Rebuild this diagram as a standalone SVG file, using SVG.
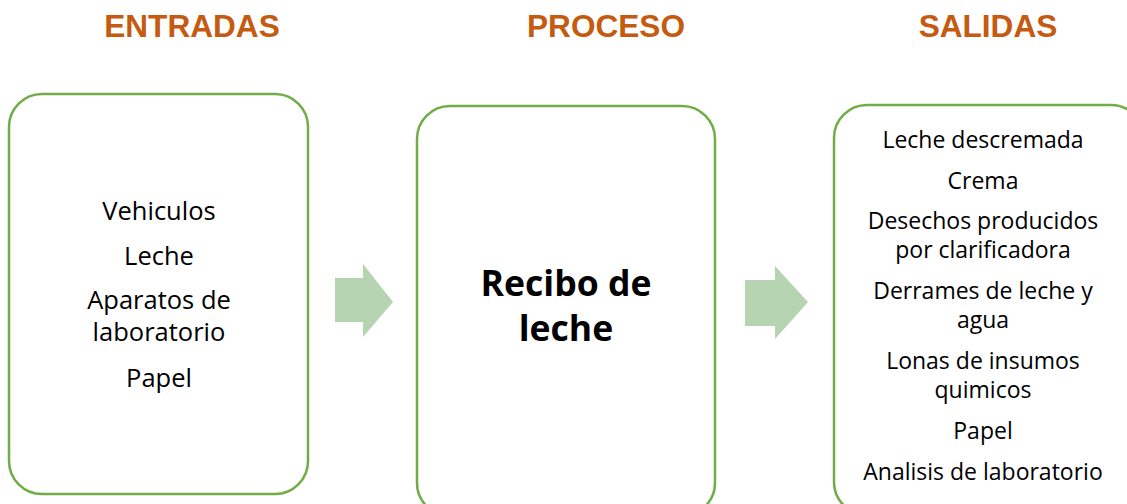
<svg xmlns="http://www.w3.org/2000/svg" width="1127" height="504" viewBox="0 0 1127 504">
<style>
.h{font-family:"Liberation Sans",Arial,sans-serif;font-weight:bold;font-size:31.6px;fill:#C55A11;text-anchor:middle}
.box{fill:#fff;stroke:#70AD47;stroke-width:2.5}
.t{font-family:"Open Sans","Noto Sans",sans-serif;font-size:23px;fill:#000;text-anchor:middle}
.tl{font-family:"Open Sans","Noto Sans",sans-serif;font-size:25.5px;fill:#000;text-anchor:middle}
.b{font-family:"Open Sans","Noto Sans",sans-serif;font-size:35.6px;font-weight:bold;fill:#000;text-anchor:middle}
.arr{fill:#B6D4B1}
</style>
<rect width="1127" height="504" fill="#fff"/>
<text class="h" x="192" y="37">ENTRADAS</text>
<text class="h" x="606" y="37">PROCESO</text>
<text class="h" x="988" y="37">SALIDAS</text>
<g id="entradas">
<rect class="box" x="9" y="94" width="299" height="400" rx="33"/>
<text class="tl" x="159" y="220">Vehiculos</text>
<text class="tl" x="159" y="265">Leche</text>
<text class="tl" x="159" y="309">Aparatos de</text>
<text class="tl" x="159" y="341">laboratorio</text>
<text class="tl" x="159" y="387">Papel</text>
</g>
<g id="proceso">
<rect class="box" x="417" y="106" width="298" height="410" rx="33"/>
<text class="b" x="566" y="296">Recibo de</text>
<text class="b" x="566" y="341">leche</text>
</g>
<g id="salidas">
<rect class="box" x="834" y="105" width="310" height="410" rx="33"/>
<text class="t" x="983" y="148">Leche descremada</text>
<text class="t" x="983" y="189">Crema</text>
<text class="t" x="983" y="229">Desechos producidos</text>
<text class="t" x="983" y="258">por clarificadora</text>
<text class="t" x="983" y="299">Derrames de leche y</text>
<text class="t" x="983" y="328">agua</text>
<text class="t" x="983" y="369">Lonas de insumos</text>
<text class="t" x="983" y="398">quimicos</text>
<text class="t" x="983" y="439">Papel</text>
<text class="t" x="983" y="480">Analisis de laboratorio</text>
</g>
<g id="connectors">
<polygon class="arr" points="335,278 363,278 363,264 393,302 363,337 363,322 335,322"/>
<polygon class="arr" points="745,280 775,280 775,266 808,302 775,339 775,326 745,326"/>
</g>
</svg>
